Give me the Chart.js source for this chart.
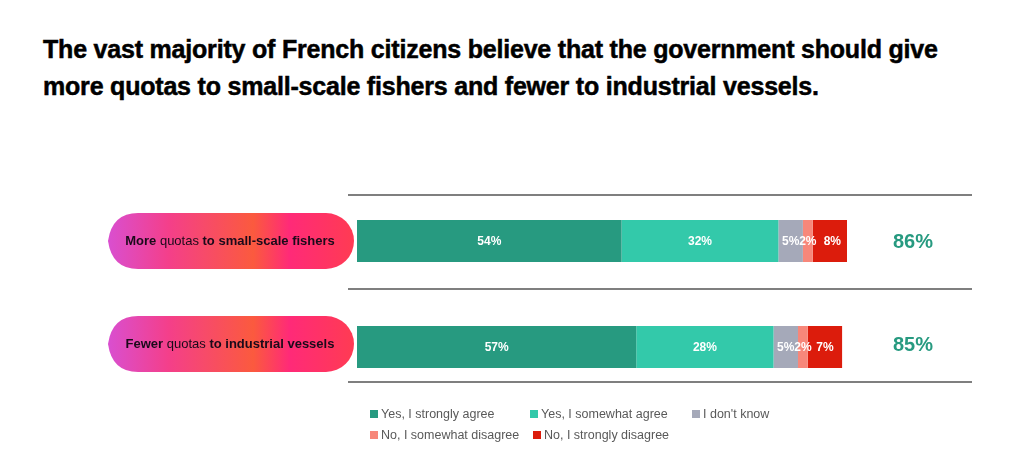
<!DOCTYPE html>
<html><head><meta charset="utf-8">
<script src="https://cdn.jsdelivr.net/npm/chart.js@4"></script>
<style>
body{margin:0;background:#fff;width:1024px;height:468px;overflow:hidden;position:relative;font-family:"Liberation Sans",Arial,sans-serif}
#t{position:absolute;left:43px;top:31px;font-weight:900;font-size:25px;line-height:37px;color:#000;font-family:"Liberation Sans",Arial,sans-serif;letter-spacing:-0.2px;-webkit-text-stroke:0.5px #000;white-space:nowrap}
#lg{position:absolute;left:370px;top:404px;font-size:12.5px;color:#595959;line-height:21px}
#lg span{display:inline-block}
#lg i{display:inline-block;width:8px;height:8px;margin-right:3px}
canvas{position:absolute;left:0;top:0}
</style></head><body>
<div id="t">The vast majority of French citizens believe that the government should give<br>more quotas to small-scale fishers and fewer to industrial vessels.</div>
<canvas id="c" width="1024" height="468"></canvas>
<div id="lg"></div>
<script>
const categories=["More quotas to small-scale fishers","Fewer quotas to industrial vessels"];
const seriesNames=["Yes, I strongly agree","Yes, I somewhat agree","I don't know","No, I somewhat disagree","No, I strongly disagree"];
const stronglyAgree=[54,57];
const somewhatAgree=[32,28];
const dontKnow=[5,5];
const somewhatDisagree=[2,2];
const stronglyDisagree=[8,7];
const totalAgree=[86,85];
const colors=["#279a80","#33c9aa","#a5a9b9","#f7877a","#dc1c0c"];
const vals=[stronglyAgree,somewhatAgree,dontKnow,somewhatDisagree,stronglyDisagree];
const lg=document.getElementById('lg');
lg.innerHTML='<span style="width:160px"><i style="background:'+colors[0]+'"></i>'+seriesNames[0]+'</span><span style="width:162px"><i style="background:'+colors[1]+'"></i>'+seriesNames[1]+'</span><span><i style="background:'+colors[2]+'"></i>'+seriesNames[2]+'</span><br><span style="width:163px"><i style="background:'+colors[3]+'"></i>'+seriesNames[3]+'</span><span><i style="background:'+colors[4]+'"></i>'+seriesNames[4]+'</span>';
const deco={id:'deco',afterDraw(ch){
 const c=ch.ctx,y=ch.scales.y;
 c.save();
 c.strokeStyle='#555';c.lineWidth=1.5;
 [195,289,382].forEach(v=>{c.beginPath();c.moveTo(348,v);c.lineTo(972,v);c.stroke();});
 categories.forEach((cat,i)=>{
  const cy=y.getPixelForValue(i)-(i==1?3:0);
  const x0=108,x1=350,h=56,top=cy-h/2;
  const g=c.createLinearGradient(x0,0,x1,0);
  g.addColorStop(0,'#d94fd0');g.addColorStop(0.25,'#f43f8a');g.addColorStop(0.6,'#fb5a3e');g.addColorStop(0.75,'#ff2a78');g.addColorStop(1,'#ff3a55');
  c.fillStyle=g;c.beginPath();
  c.moveTo(x0,cy);c.quadraticCurveTo(x0+4,top,x0+30,top);c.lineTo(x1-24,top);
  c.arc(x1-24,cy,h/2,-Math.PI/2,Math.PI/2);c.lineTo(x0+30,top+h);c.quadraticCurveTo(x0+4,top+h,x0,cy);c.fill();
  const parts=i==0?[["More",1],[" quotas ",0],["to small-scale fishers",1]]:[["Fewer",1],[" quotas ",0],["to industrial vessels",1]];
  c.textBaseline='middle';c.fillStyle='#1a0a1a';
  const f=p=>(p[1]?'bold ':'')+'13px "Liberation Sans Narrow","Liberation Sans"';
  let w=0;parts.forEach(p=>{c.font=f(p);w+=c.measureText(p[0]).width;});
  let x=230-w/2;
  parts.forEach(p=>{c.font=f(p);c.fillText(p[0],x,cy);x+=c.measureText(p[0]).width;});
  c.font='bold 20px "Liberation Sans",Arial';c.fillStyle='#279a80';c.textAlign='center';
  c.fillText(totalAgree[i]+'%',913,cy+1);c.textAlign='left';
 });
 c.font='bold 12px "Liberation Sans",Arial';c.fillStyle='#fff';c.textAlign='center';
 ch.data.datasets.forEach((ds,di)=>{ch.getDatasetMeta(di).data.forEach((b,i)=>{
  c.fillText(ds.data[i]+'%',(b.x+b.base)/2,b.y+1);});});
 c.restore();}};
new Chart(document.getElementById('c'),{type:'bar',
 data:{labels:categories,datasets:seriesNames.map((n,k)=>({label:n,data:vals[k],backgroundColor:colors[k],borderWidth:0,barPercentage:0.396,categoryPercentage:1}))},
 options:{indexAxis:'y',responsive:false,animation:false,
  layout:{padding:{left:357,right:177,top:188,bottom:68}},
  plugins:{legend:{display:false},tooltip:{enabled:false}},
  scales:{x:{stacked:true,min:0,max:100,display:false},y:{stacked:true,display:false}}},
 plugins:[deco]});
</script></body></html>
